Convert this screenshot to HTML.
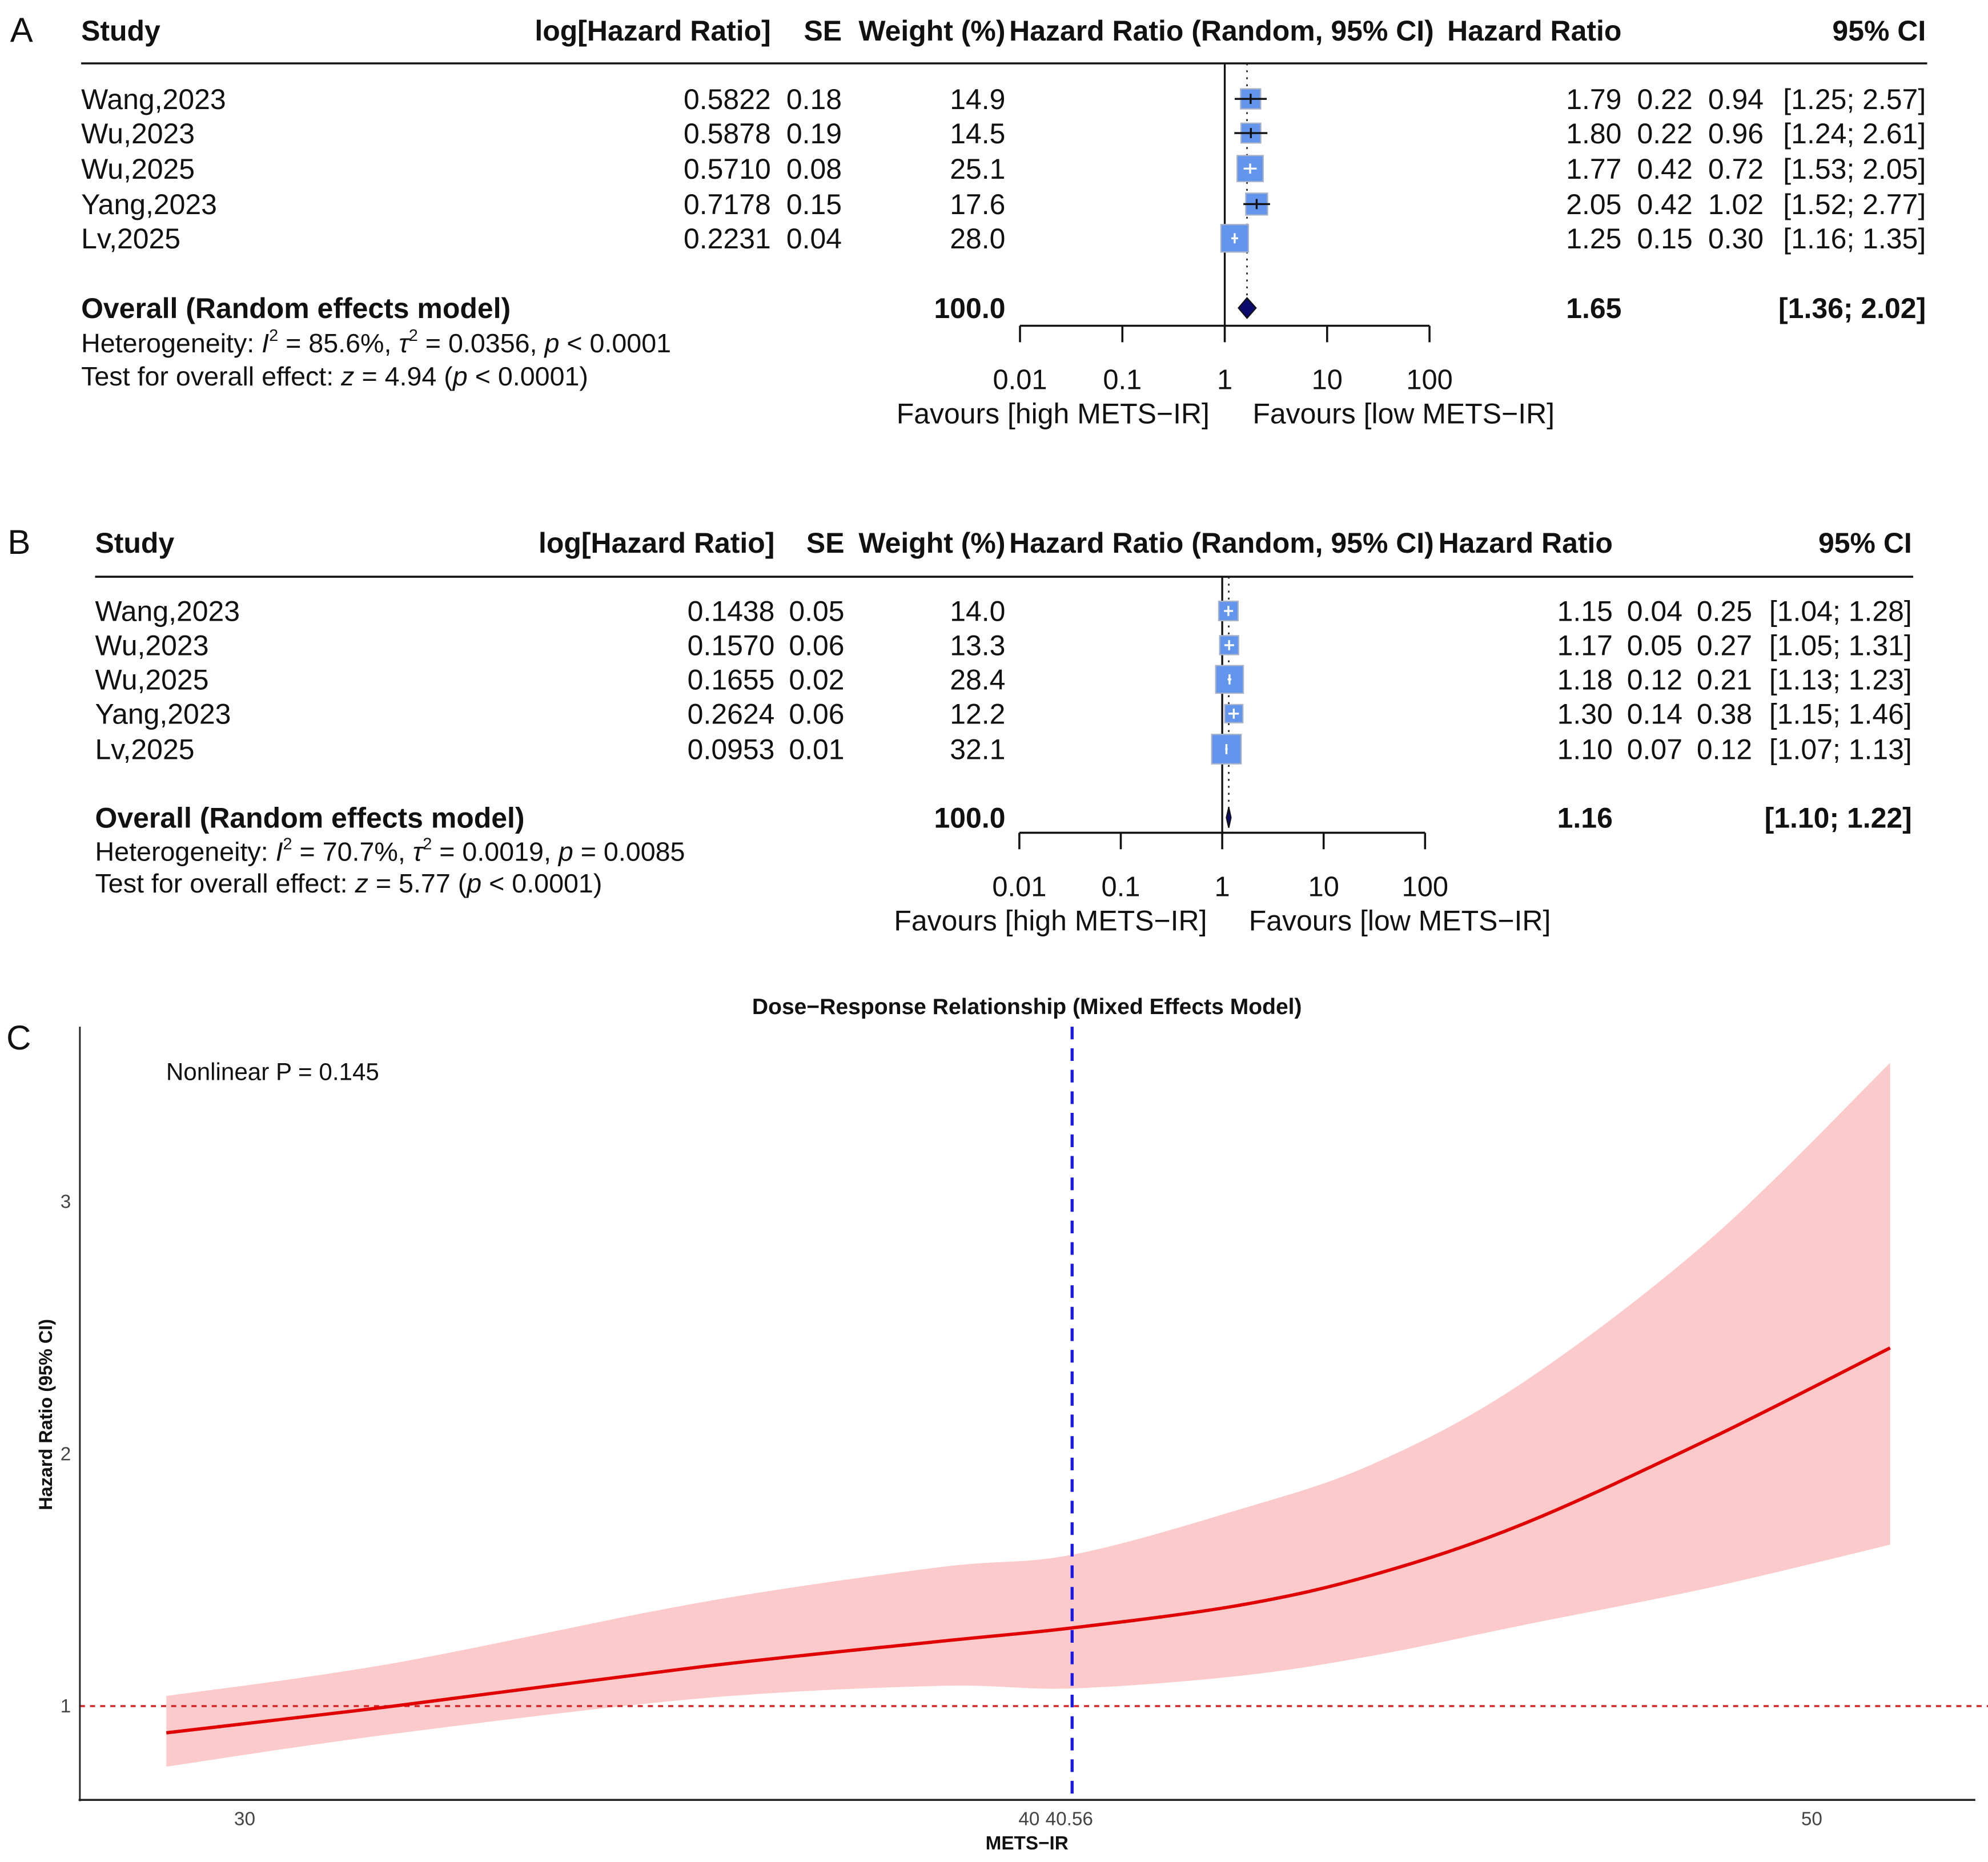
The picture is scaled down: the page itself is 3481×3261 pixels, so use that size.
<!DOCTYPE html>
<html><head><meta charset="utf-8">
<style>
html,body{margin:0;padding:0;background:#fff;}
svg{display:block;}
text{font-family:"Liberation Sans",Arial,sans-serif;}
</style></head>
<body>
<svg id="fig" width="3481" height="3261" viewBox="0 0 1568 1469" preserveAspectRatio="none" xmlns="http://www.w3.org/2000/svg">
<rect width="1568" height="1469" fill="#fff"/>
</svg>
<script>
// ---------- Panel A data ----------
const studiesA = ["Wang,2023","Wu,2023","Wu,2025","Yang,2023","Lv,2025"];
const logHRA = ["0.5822","0.5878","0.5710","0.7178","0.2231"];
const seA = ["0.18","0.19","0.08","0.15","0.04"];
const weightA = [14.9,14.5,25.1,17.6,28.0];
const hrA = [1.79,1.80,1.77,2.05,1.25];
const lowA = [1.25,1.24,1.53,1.52,1.16];
const highA = [2.57,2.61,2.05,2.77,1.35];
const extra1A = ["0.22","0.22","0.42","0.42","0.15"];
const extra2A = ["0.94","0.96","0.72","1.02","0.30"];
const overallA = [1.65,1.36,2.02];
// ---------- Panel B data ----------
const studiesB = ["Wang,2023","Wu,2023","Wu,2025","Yang,2023","Lv,2025"];
const logHRB = ["0.1438","0.1570","0.1655","0.2624","0.0953"];
const seB = ["0.05","0.06","0.02","0.06","0.01"];
const weightB = [14.0,13.3,28.4,12.2,32.1];
const hrB = [1.15,1.17,1.18,1.30,1.10];
const lowB = [1.04,1.05,1.13,1.15,1.07];
const highB = [1.28,1.31,1.23,1.46,1.13];
const extra1B = ["0.04","0.05","0.12","0.14","0.07"];
const extra2B = ["0.25","0.27","0.21","0.38","0.12"];
const overallB = [1.16,1.10,1.22];
const forestTicks = [0.01,0.1,1,10,100];
const forestTickLabels = ["0.01","0.1","1","10","100"];
// ---------- Panel C data ----------
const doseX = [29.0,31.9,35.8,38.85,40.56,42.7,44.4,46.3,48.7,51.0];
const doseHR = [0.894,1.0,1.155,1.256,1.31,1.40,1.52,1.72,2.06,2.42];
const doseUpper = [1.04,1.17,1.41,1.55,1.60,1.78,1.96,2.28,2.85,3.55];
const doseLower = [0.76,0.89,1.03,1.08,1.07,1.12,1.20,1.32,1.47,1.64];
const xTicksC = [30,40,40.56,50];
const xTickLabelsC = ["30","40","40.56","50"];
const yTicksC = [1,2,3];
const yTickLabelsC = ["1","2","3"];
const refX = 40.56;

const NS="http://www.w3.org/2000/svg";
const svg=document.getElementById('fig');
function mk(tag,attrs,parent){const e=document.createElementNS(NS,tag);for(const k in attrs)e.setAttribute(k,attrs[k]);(parent||svg).appendChild(e);return e;}
function txt(s,x,y,size,anchor,weight,parent,fill){const t=mk('text',{x:x,y:y,'font-size':size,'text-anchor':anchor||'start','font-weight':weight||'normal',fill:fill||'#111'},parent);t.textContent=s;return t;}

function forest(o){
  const g=mk('g',{});
  
  
  const X=v=>o.x1+o.dec*Math.log10(v);
  const fs=22.5;
  const l=txt(o.letter,o.letterX,o.hy+9,27,'start','normal',g);  
  const hb=o.hy+8;
  const headers=[["Study",o.cStudy,'start'],["log[Hazard Ratio]",o.cLog,'end'],["SE",o.cSE,'end'],["Weight (%)",o.cW,'end'],["Hazard Ratio (Random, 95% CI)",o.cHRR,'start'],["Hazard Ratio",o.cHR,'end'],["95% CI",o.cCI,'end']];
  headers.forEach(h=>{const t=txt(h[0],h[1],hb,fs,h[2],'bold',g);});
  mk('line',{x1:o.cStudy,x2:o.cCI+1,y1:o.lineY,y2:o.lineY,stroke:'#111','stroke-width':1.6},g);
  mk('line',{x1:X(1),x2:X(1),y1:o.lineY,y2:o.axisY,stroke:'#111','stroke-width':1.5},g);
  mk('line',{x1:X(o.overall[0]),x2:X(o.overall[0]),y1:o.lineY,y2:o.overallY,stroke:'#222','stroke-width':1.2,'stroke-dasharray':'1.5 4'},g);
  o.studies.forEach((s,i)=>{
    const y=o.rows[i], b=y+8;
    const r=txt(s,o.cStudy,b,fs,'start','normal',g);  
    txt(o.logHR[i],o.cLog,b,fs,'end','normal',g);
    txt(o.se[i],o.cSE,b,fs,'end','normal',g);
    txt(o.weight[i].toFixed(1),o.cW,b,fs,'end','normal',g);
    txt(o.hr[i].toFixed(2),o.cHR,b,fs,'end','normal',g);
    txt(o.e1[i],o.cE1,b,fs,'end','normal',g);
    txt(o.e2[i],o.cE2,b,fs,'end','normal',g);
    txt('['+o.low[i].toFixed(2)+'; '+o.high[i].toFixed(2)+']',o.cCI,b,fs,'end','normal',g);
    const sz=Math.sqrt(o.weight[i])*4.1, cx=X(o.hr[i]);
    const sq=mk('rect',{x:cx-sz/2,y:y-sz/2,width:sz,height:sz,fill:'#6495ed',stroke:'#a9b4c8','stroke-width':1},g);
    
    
    const x1=X(o.low[i]), x2=X(o.high[i]);
    const inside=(x1>cx-sz/2 && x2<cx+sz/2);
    const col=inside?'#fff':'#111';
    mk('line',{x1:x1,x2:x2,y1:y,y2:y,stroke:col,'stroke-width':1.5},g);
    mk('line',{x1:cx,x2:cx,y1:y-4,y2:y+4,stroke:col,'stroke-width':1.5},g);
  });
  const oy=o.overallY, ob=oy+8;
  const ot=txt("Overall (Random effects model)",o.cStudy,ob,fs,'start','bold',g);  
  txt("100.0",o.cW,ob,fs,'end','bold',g);
  txt(o.overall[0].toFixed(2),o.cHR,ob,fs,'end','bold',g);
  txt('['+o.overall[1].toFixed(2)+'; '+o.overall[2].toFixed(2)+']',o.cCI,ob,fs,'end','bold',g);
  const d=mk('polygon',{points:`${X(o.overall[1])},${oy} ${X(o.overall[0])},${oy-8} ${X(o.overall[2])},${oy} ${X(o.overall[0])},${oy+8}`,fill:'#0b0b6e',stroke:'#111','stroke-width':1},g);
  
  
  const h1=mk('text',{x:o.cStudy,y:o.hetY+7,'font-size':21,fill:'#111'},g);
  h1.innerHTML=o.het;
   
  const h2=mk('text',{x:o.cStudy,y:o.testY+7,'font-size':21,fill:'#111'},g);
  h2.innerHTML=o.test;
   
  mk('line',{x1:X(0.01),x2:X(100),y1:o.axisY,y2:o.axisY,stroke:'#111','stroke-width':1.6},g);
  forestTicks.forEach((t,i)=>{
    mk('line',{x1:X(t),x2:X(t),y1:o.axisY,y2:o.axisY+13,stroke:'#111','stroke-width':1.6},g);
    const tl=txt(forestTickLabels[i],X(t),o.axisY+50,22,'middle','normal',g);
     
  });
  const f1=txt("Favours [high METS\u2212IR]",o.favL,o.axisY+77,22.5,'end','normal',g);
   
  const f2=txt("Favours [low METS\u2212IR]",o.favR,o.axisY+77,22.5,'start','normal',g);
   
}

forest({name:'forest-plot-a',letter:'A',letterX:8,hy:24,lineY:50,rows:[78,105,133,161,188],overallY:243,hetY:271,testY:297,axisY:257,
  x1:966,dec:80.75,cStudy:64,cLog:608,cSE:664,cW:793,cHRR:796,cHR:1279,cE1:1335,cE2:1391,cCI:1519,favL:954,favR:988,
  studies:studiesA,logHR:logHRA,se:seA,weight:weightA,hr:hrA,low:lowA,high:highA,e1:extra1A,e2:extra2A,overall:overallA,
  het:'Heterogeneity: <tspan font-style="italic">I</tspan><tspan font-size="13" dy="-9">2</tspan><tspan dy="9"> = 85.6%, </tspan><tspan font-style="italic">τ</tspan><tspan font-size="13" dy="-9">2</tspan><tspan dy="9"> = 0.0356, </tspan><tspan font-style="italic">p</tspan> &lt; 0.0001',
  test:'Test for overall effect: <tspan font-style="italic">z</tspan> = 4.94 (<tspan font-style="italic">p</tspan> &lt; 0.0001)'});
forest({name:'forest-plot-b',letter:'B',letterX:6,hy:428,lineY:455,rows:[482,509,536,563,591],overallY:645,hetY:672,testY:697,axisY:657,
  x1:964,dec:80,cStudy:75,cLog:611,cSE:666,cW:793,cHRR:796,cHR:1272,cE1:1327,cE2:1382,cCI:1508,favL:952,favR:985,
  studies:studiesB,logHR:logHRB,se:seB,weight:weightB,hr:hrB,low:lowB,high:highB,e1:extra1B,e2:extra2B,overall:overallB,
  het:'Heterogeneity: <tspan font-style="italic">I</tspan><tspan font-size="13" dy="-9">2</tspan><tspan dy="9"> = 70.7%, </tspan><tspan font-style="italic">τ</tspan><tspan font-size="13" dy="-9">2</tspan><tspan dy="9"> = 0.0019, </tspan><tspan font-style="italic">p</tspan> = 0.0085',
  test:'Test for overall effect: <tspan font-style="italic">z</tspan> = 5.77 (<tspan font-style="italic">p</tspan> &lt; 0.0001)'});

// ---------- Panel C ----------
(function(){
  const g=mk('g',{});
  
  
  const X=v=>193+(v-30)*61.8;
  const Y=v=>1346-(v-1)*199;
  const L=txt('C',5,828,27,'start','normal',g);  
  const ttl=txt('Dose\u2212Response Relationship (Mixed Effects Model)',810,800,17.6,'middle','bold',g);
   
  function smooth(pts){
    let d=`M${pts[0][0]},${pts[0][1]}`;
    for(let i=0;i<pts.length-1;i++){
      const p0=pts[Math.max(0,i-1)],p1=pts[i],p2=pts[i+1],p3=pts[Math.min(pts.length-1,i+2)];
      const c1=[p1[0]+(p2[0]-p0[0])/6,p1[1]+(p2[1]-p0[1])/6],c2=[p2[0]-(p3[0]-p1[0])/6,p2[1]-(p3[1]-p1[1])/6];
      d+=` C${c1[0]},${c1[1]} ${c2[0]},${c2[1]} ${p2[0]},${p2[1]}`;
    }
    return d;
  }
  const up=doseX.map((x,i)=>[X(x),Y(doseUpper[i])]);
  const lo=doseX.map((x,i)=>[X(x),Y(doseLower[i])]).reverse();
  let band=smooth(up)+` L${lo[0][0]},${lo[0][1]}`+smooth(lo).replace(/^M[^C]*/,' ')+' Z';
  const b=mk('path',{d:band,fill:'#fccaca',stroke:'none'},g);
   
  const rl=mk('line',{x1:63,x2:1568,y1:Y(1),y2:Y(1),stroke:'#d42020','stroke-width':1.5,'stroke-dasharray':'4 4'},g);
   
  const c=mk('path',{d:smooth(doseX.map((x,i)=>[X(x),Y(doseHR[i])])),fill:'none',stroke:'#e00000','stroke-width':2.6},g);
   
  const vl=mk('line',{x1:X(refX),x2:X(refX),y1:810,y2:1420,stroke:'#1a1ae6','stroke-width':2.4,'stroke-dasharray':'10 7'},g);
   
  mk('line',{x1:63,x2:63,y1:810,y2:1421,stroke:'#222','stroke-width':1.3},g);
  mk('line',{x1:62,x2:1558,y1:1420,y2:1420,stroke:'#222','stroke-width':1.6},g);
  xTicksC.forEach((t,i)=>{
    let x=X(t); let anchor='middle';
    if(xTickLabelsC[i]==='40'){anchor='end';x=X(t)+9;} if(xTickLabelsC[i]==='40.56'){anchor='start';x=X(t)-21;}
    const tl=txt(xTickLabelsC[i],x,1440,15,anchor,'normal',g,'#444');
     
  });
  yTicksC.forEach((t,i)=>{
    const tl=txt(yTickLabelsC[i],56,Y(t)+5,15,'end','normal',g,'#444');
     
  });
  const xt=txt('METS\u2212IR',810,1459,15,'middle','bold',g);
   
  const yt=txt('Hazard Ratio (95% CI)',0,0,14.6,'middle','bold',g);
  yt.setAttribute('transform','translate(41,1116) rotate(-90)');
   
  const np=txt('Nonlinear P = 0.145',131,852,19,'start','normal',g);
   
})();
</script>
</body></html>
